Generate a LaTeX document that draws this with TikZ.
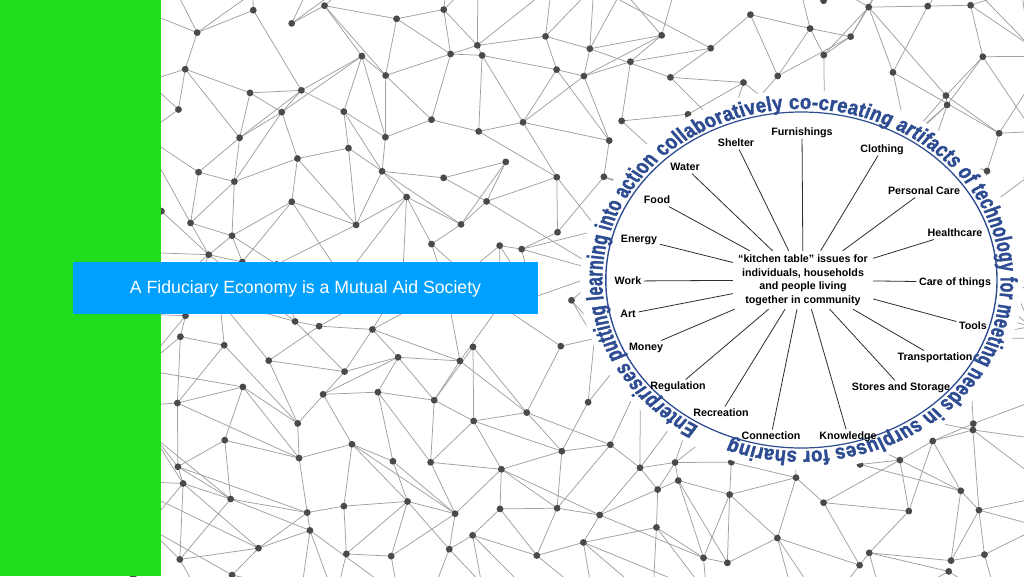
\documentclass[tikz,border=0pt]{standalone}
\usepackage{fontspec}
\setmainfont{Liberation Sans}
\newfontfamily\arcfont[FakeStretch=0.77,FakeBold=1.6]{Liberation Sans Bold}
\usetikzlibrary{decorations.text}
\definecolor{netline}{HTML}{A0A0A0}
\definecolor{netdot}{HTML}{4A4A4A}
\definecolor{barg}{HTML}{22DD1E}
\definecolor{banblue}{HTML}{00A0FF}
\definecolor{arcblue}{HTML}{2E4C92}
\begin{document}
\begin{tikzpicture}[x=1pt,y=1pt,
  net/.style={draw=netline, line width=0.75pt},
  netdotstyle/.style={fill=netdot},
  lbl/.style={font=\bfseries\fontsize{10.7}{12}\selectfont, inner sep=2.5pt, text height=7.7pt, text depth=0pt, text=black},
  spoke/.style={draw=black!82, line width=0.8pt},
  hubtext/.style={font=\bfseries\fontsize{10.7}{13.5}\selectfont, align=center, minimum width=140pt, minimum height=58pt, inner sep=0pt, text=black},
  banner/.style={fill=banblue, text=white, font=\fontsize{17.7}{20}\selectfont, minimum width=465pt, minimum height=52pt, inner sep=0pt, text depth=0pt}
]
\useasboundingbox (0,0) rectangle (1024,-576);
\fill[white] (0,0) rectangle (1024,-576);
% background network
\begin{scope}
\clip (0,0) rectangle (1024,-576);
\pgfmathsetseed{2024}
\foreach \i in {0,...,18}{
  \foreach \j in {0,...,13}{
    \pgfmathsetmacro\px{140+\i*50+22*rand}
    \pgfmathsetmacro\py{-(-20+\j*47+22*rand)}
    \coordinate (p-\i-\j) at (\px,\py);
  }
}
\foreach \i in {0,...,17}{
  \foreach \j in {0,...,13}{
    \pgfmathtruncatemacro\ii{\i+1}
    \pgfmathtruncatemacro\ka{rnd<0.8}
    \ifnum\ka=1 \draw[net] (p-\i-\j) -- (p-\ii-\j);\fi
  }
}
\foreach \i in {0,...,18}{
  \foreach \j in {0,...,12}{
    \pgfmathtruncatemacro\jj{\j+1}
    \pgfmathtruncatemacro\ka{rnd<0.8}
    \ifnum\ka=1 \draw[net] (p-\i-\j) -- (p-\i-\jj);\fi
  }
}
\foreach \i in {0,...,17}{
  \foreach \j in {1,...,12}{
    \pgfmathtruncatemacro\ii{\i+1}
    \pgfmathtruncatemacro\jd{rnd<0.5 ? \j+1 : \j-1}
    \pgfmathtruncatemacro\ka{rnd<0.85}
    \ifnum\ka=1 \draw[net] (p-\i-\j) -- (p-\ii-\jd);\fi
  }
}
\foreach \i in {0,...,16}{
  \foreach \j in {0,...,12}{
    \pgfmathtruncatemacro\ii{\i+2}
    \pgfmathtruncatemacro\jj{\j+1}
    \pgfmathtruncatemacro\ka{rnd<0.12}
    \ifnum\ka=1 \draw[net] (p-\i-\j) -- (p-\ii-\jj);\fi
  }
}
\foreach \i in {0,...,18}{
  \foreach \j in {0,...,13}{
    \fill[netdotstyle] (p-\i-\j) circle[radius=3.4];
  }
}
\end{scope}
% green bar
\fill[barg] (0,0) rectangle (161,-576);
% banner
\node[banner] (title) at (305.5,-287.5) {A Fiduciary Economy is a Mutual Aid Society};
% circle (drawn as a circle, stretched horizontally like the reference)
\begin{scope}[transform canvas={shift={(801.4,-280)}, xscale=1.1643}]
\fill[white] (0,0) circle[radius=190];
\draw[arcblue, line width=1.2pt] (0,0) circle[radius=168];
\path[decorate, decoration={text along path, text color=arcblue, text align={fit to path},
  text={|\arcfont\fontsize{20.5}{21}\selectfont|Enterprises putting learning into action collaboratively co-creating artifacts of technology for meeting needs in surpluses for sharing}}]
  (239:171) arc[start angle=239, end angle=-111, radius=171];
\end{scope}
% hub
\node[hubtext] (hub) at (803,-280) {“kitchen table” issues for\\individuals, households\\and people living\\together in community};
% labels
\node[lbl] (furn) at (802,-132) {Furnishings};
\node[lbl] (shel) at (736,-143) {Shelter};
\node[lbl] (clot) at (882,-149) {Clothing};
\node[lbl] (watr) at (685,-167) {Water};
\node[lbl] (pers) at (924,-191) {Personal Care};
\node[lbl] (food) at (657,-200) {Food};
\node[lbl] (hlth) at (955,-233) {Healthcare};
\node[lbl] (enrg) at (639,-239) {Energy};
\node[lbl] (work) at (628,-281) {Work};
\node[lbl] (care) at (955,-282) {Care of things};
\node[lbl] (art)  at (628,-314) {Art};
\node[lbl] (tool) at (973,-326) {Tools};
\node[lbl] (mony) at (646,-347) {Money};
\node[lbl] (trns) at (935,-357) {Transportation};
\node[lbl] (regu) at (678,-386) {Regulation};
\node[lbl] (stor) at (901,-387) {Stores and Storage};
\node[lbl] (recr) at (721,-413) {Recreation};
\node[lbl] (conn) at (771,-436) {Connection};
\node[lbl] (know) at (848,-436) {Knowledge};
\foreach \n in {furn,shel,clot,watr,pers,food,hlth,enrg,work,care,art,tool,mony,trns,regu,stor,recr,conn,know}{
  \draw[spoke] (\n) -- (hub);
}
\end{tikzpicture}
\end{document}
